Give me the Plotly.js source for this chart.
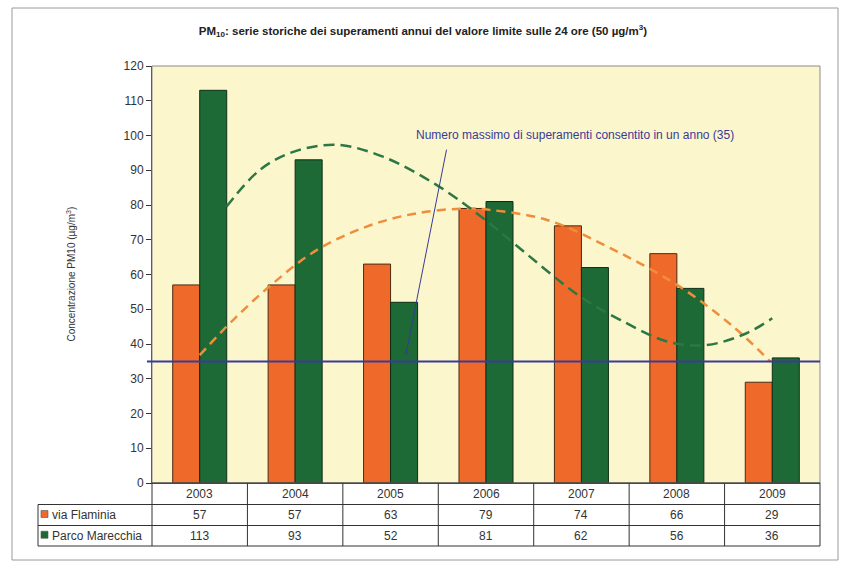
<!DOCTYPE html>
<html>
<head>
<meta charset="utf-8">
<script src="https://cdn.plot.ly/plotly-3.0.1.min.js"></script>
<style>html,body{margin:0;padding:0;background:#fff;}#chart{width:851px;height:573px;}</style>
</head>
<body>
<div id="chart"></div>
<script>
// ---- data ----
const years = ["2003", "2004", "2005", "2006", "2007", "2008", "2009"];
const flaminia = [57, 57, 63, 79, 74, 66, 29];
const marecchia = [113, 93, 52, 81, 62, 56, 36];
const seriesNames = ["via Flaminia", "Parco Marecchia"];
const limitValue = 35;
// trend curves (x in year index units)
const trendFlaminiaX = [0, 0.35, 0.77, 1.23, 1.75, 2.27, 2.8, 3.04, 3.64, 4.34, 5.03, 5.59, 5.98];
const trendFlaminiaY = [36.8, 46.9, 57.5, 67.1, 73.8, 77.6, 79.0, 78.6, 75.7, 67.1, 56.5, 45.0, 34.9];
const trendMarecchiaX = [0.28, 0.63, 0.98, 1.44, 1.92, 2.48, 2.97, 3.29, 3.99, 4.41, 4.9, 5.31, 5.73, 6.0];
const trendMarecchiaY = [79.5, 90.1, 95.3, 97.3, 93.9, 85.8, 76.2, 69.0, 53.6, 46.9, 40.7, 39.7, 43.1, 47.4];

const cOrange = "#EF6A2A", cGreen = "#1D6A36";
const cOrangeTrend = "#EE8E3C", cGreenTrend = "#2C7744";
const cBlue = "#3A3A9A";
const FONT = "Liberation Sans, Arial, sans-serif";

const idx = years.map((_, i) => i);
const n = years.length;

const traces = [
  {type: "bar", x: idx, y: flaminia, name: seriesNames[0],
   marker: {color: cOrange, line: {color: "#4a2a10", width: 1}}},
  {type: "bar", x: idx, y: marecchia, name: seriesNames[1],
   marker: {color: cGreen, line: {color: "#0e2e18", width: 1}}},
  {type: "scatter", mode: "lines", x: trendFlaminiaX, y: trendFlaminiaY,
   line: {color: cOrangeTrend, width: 2.5, dash: "9px,6px", shape: "spline"}, hoverinfo: "skip"},
  {type: "scatter", mode: "lines", x: trendMarecchiaX, y: trendMarecchiaY,
   line: {color: cGreenTrend, width: 2.5, dash: "11px,6px", shape: "spline"}, hoverinfo: "skip"}
];

// geometry helpers (paper coords)
const plotL = 152, plotR = 820, plotT = 66, plotB = 483;
const pw = plotR - plotL, ph = plotB - plotT;
const px2paperX = p => (p - plotL) / pw;
const py2paperY = p => (plotB - p) / ph;
const boundX = k => k / n; // category boundary k (0..n)

const shapes = [];
const annotations = [];

// outer frame
shapes.push({type: "rect", xref: "paper", yref: "paper",
  x0: px2paperX(12), x1: px2paperX(838), y0: py2paperY(560), y1: py2paperY(8),
  line: {color: "#9a9a9a", width: 1}, layer: "below"});
// plot border (top/right)
shapes.push({type: "rect", xref: "paper", yref: "paper", x0: 0, x1: 1, y0: 0, y1: 1,
  line: {color: "#8a8a8a", width: 1}, layer: "above"});
// limit line
shapes.push({type: "line", xref: "paper", yref: "y", x0: px2paperX(147), x1: 1, y0: limitValue, y1: limitValue,
  line: {color: cBlue, width: 2}});

// table rows
const rowY = [483, 504.5, 525.5, 546].map(py2paperY);
const tableLeft = px2paperX(38);
const tl = {color: "#333", width: 1};
// horizontal lines
shapes.push({type: "line", xref: "paper", yref: "paper", x0: 0, x1: 1, y0: rowY[0], y1: rowY[0], line: tl});
for (let r = 1; r < 4; r++) {
  shapes.push({type: "line", xref: "paper", yref: "paper", x0: tableLeft, x1: 1, y0: rowY[r], y1: rowY[r], line: tl});
}
// vertical lines
for (let k = 0; k <= n; k++) {
  shapes.push({type: "line", xref: "paper", yref: "paper", x0: boundX(k), x1: boundX(k), y0: rowY[0], y1: rowY[3], line: tl});
}
shapes.push({type: "line", xref: "paper", yref: "paper", x0: tableLeft, x1: tableLeft, y0: rowY[1], y1: rowY[3], line: tl});

// legend keys in table
const keyColors = [cOrange, cGreen];
for (let r = 0; r < 2; r++) {
  const yc = (rowY[r + 1] + rowY[r + 2]) / 2;
  const h = 7 / ph;
  shapes.push({type: "rect", xref: "paper", yref: "paper",
    x0: px2paperX(41), x1: px2paperX(48), y0: yc - h / 2 + 1 / ph, y1: yc + h / 2 + 1 / ph,
    fillcolor: keyColors[r], line: {color: "#555", width: 0.6}});
  annotations.push({xref: "paper", yref: "paper", x: px2paperX(50), y: yc, xanchor: "left", yanchor: "middle",
    text: seriesNames[r], showarrow: false, font: {family: FONT, size: 12, color: "#333"}});
}
// table cells
const rowsVals = [years, flaminia, marecchia];
for (let r = 0; r < 3; r++) {
  const yc = (rowY[r] + rowY[r + 1]) / 2;
  rowsVals[r].forEach((v, i) => {
    annotations.push({xref: "x", yref: "paper", x: i, y: yc, xanchor: "center", yanchor: "middle",
      text: String(v), showarrow: false, font: {family: FONT, size: 12, color: "#333"}});
  });
}

// y-axis title
annotations.push({xref: "paper", yref: "paper", x: px2paperX(70), y: 0.5, textangle: -90,
  text: "Concentrazione PM10 (µg/m<sup>3</sup>)", showarrow: false, xanchor: "center", yanchor: "middle",
  font: {family: FONT, size: 10, color: "#333"}});

// limit annotation text + arrow
annotations.push({xref: "x", yref: "y", x: (575 - 199.7) / 95.4, y: (483 - 135) / 3.475,
  text: "Numero massimo di superamenti consentito in un anno (35)", showarrow: false,
  xanchor: "center", yanchor: "middle", font: {family: FONT, size: 12, color: cBlue}});
annotations.push({xref: "x", yref: "y", x: 2.16, y: 36.8, text: "", showarrow: true,
  ax: 41, ay: -207, arrowhead: 2, arrowsize: 0.7, arrowwidth: 1, arrowcolor: cBlue});

const layout = {
  width: 851, height: 573,
  margin: {l: plotL, r: 851 - plotR, t: plotT, b: 573 - plotB},
  paper_bgcolor: "#ffffff",
  plot_bgcolor: "#FBF6CB",
  showlegend: false,
  barmode: "group",
  bargap: 0.434,
  bargroupgap: 0,
  font: {family: FONT, color: "#333"},
  title: {text: "<b>PM<sub>10</sub>: serie storiche dei superamenti annui del valore limite sulle 24 ore (50 µg/m<sup>3</sup>)</b>",
    x: 0.497, xref: "container", y: 0.946, yref: "container", yanchor: "middle",
    font: {family: FONT, size: 11.5, color: "#222"}},
  xaxis: {range: [-0.5, n - 0.5], showticklabels: false, ticks: "", showgrid: false, zeroline: false,
    showline: true, linecolor: "#333", linewidth: 1, fixedrange: true},
  yaxis: {range: [0, 120], dtick: 10, ticks: "outside", ticklen: 5, tickcolor: "#333",
    showline: true, linecolor: "#333", linewidth: 1, showgrid: false, zeroline: false,
    tickfont: {family: FONT, size: 12, color: "#333"}, fixedrange: true},
  shapes: shapes,
  annotations: annotations
};

Plotly.newPlot("chart", traces, layout, {displayModeBar: false, staticPlot: true});
</script>
</body>
</html>
